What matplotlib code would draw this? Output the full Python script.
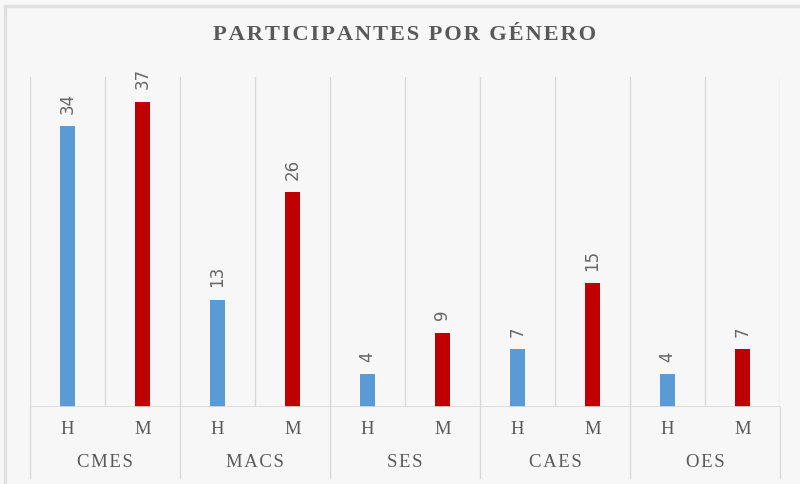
import numpy as np
import matplotlib
matplotlib.use('Agg')
import matplotlib.pyplot as plt
from matplotlib.patches import Rectangle

# data
grupos = ['CMES', 'MACS', 'SES', 'CAES', 'OES']
generos = ['H', 'M']
hombres = [34, 13, 4, 7, 4]
mujeres = [37, 26, 9, 15, 7]

AZUL = '#5B9BD5'
ROJO = '#C00000'
GRIS = '#595959'
LINEA = '#d9d9d9'
FONDO = '#f7f7f7'

HS = '\u200a'  # hair space para espaciar letras


def espaciar(s):
    return HS.join(s)


fig = plt.figure(figsize=(8, 4.84), dpi=100)
fig.patch.set_facecolor(FONDO)
fig.patches.append(Rectangle((0.006, -0.05), 1.05, 1.038, transform=fig.transFigure,
                             facecolor=FONDO, edgecolor='#e0e0e0', lw=2.5, zorder=-10))

ax = fig.add_axes([0.0375, 0.159, 0.9375, 0.682])
ax.set_facecolor('none')

n = len(grupos)
x_h = np.arange(n) * 2 + 0.5
x_m = np.arange(n) * 2 + 1.5
ancho = 0.19

bh = ax.bar(x_h, hombres, width=ancho, color=AZUL, zorder=3)
bm = ax.bar(x_m, mujeres, width=ancho, color=ROJO, zorder=3)

for barras, vals in [(bh, hombres), (bm, mujeres)]:
    for b, v in zip(barras, vals):
        ax.annotate(str(v), (b.get_x() + b.get_width() / 2, v), xytext=(0, 9),
                    textcoords='offset points', ha='center', va='bottom',
                    rotation=90, fontsize=12, color='#666666', family='DejaVu Sans')

ax.set_xlim(0, 2 * n)
ax.set_ylim(0, 40)
ax.set_xticks([])
ax.set_yticks([])
for s in ax.spines.values():
    s.set_visible(False)

# gridlines verticales
for xv in range(0, 2 * n + 1):
    ax.plot([xv, xv], [0, 1], transform=ax.get_xaxis_transform(), color=LINEA,
            lw=1, zorder=1)
ax.axhline(0, color=LINEA, lw=1.2, zorder=4)

# etiquetas de dos niveles
tr = ax.get_xaxis_transform()
for i, g in enumerate(grupos):
    for j, gen in enumerate(generos):
        ax.text(2 * i + j + 0.5, -0.068, gen, transform=tr, ha='center', va='center',
                fontsize=13.5, color=GRIS, family='Liberation Serif')
    ax.text(2 * i + 1, -0.168, espaciar(g), transform=tr,
            ha='center', va='center', fontsize=13.5, color=GRIS, family='Liberation Serif')
for xv in range(0, 2 * n + 1, 2):
    ax.plot([xv, xv], [0, -0.215], transform=tr, color=LINEA, lw=1,
            clip_on=False, zorder=1)

fig.text(0.506, 0.927, espaciar('PARTICIPANTES POR GÉNERO'), ha='center', va='center',
         fontsize=16.2, fontweight='bold', color=GRIS, family='Liberation Serif')

fig.savefig('out.png', dpi=100, facecolor=fig.get_facecolor())
